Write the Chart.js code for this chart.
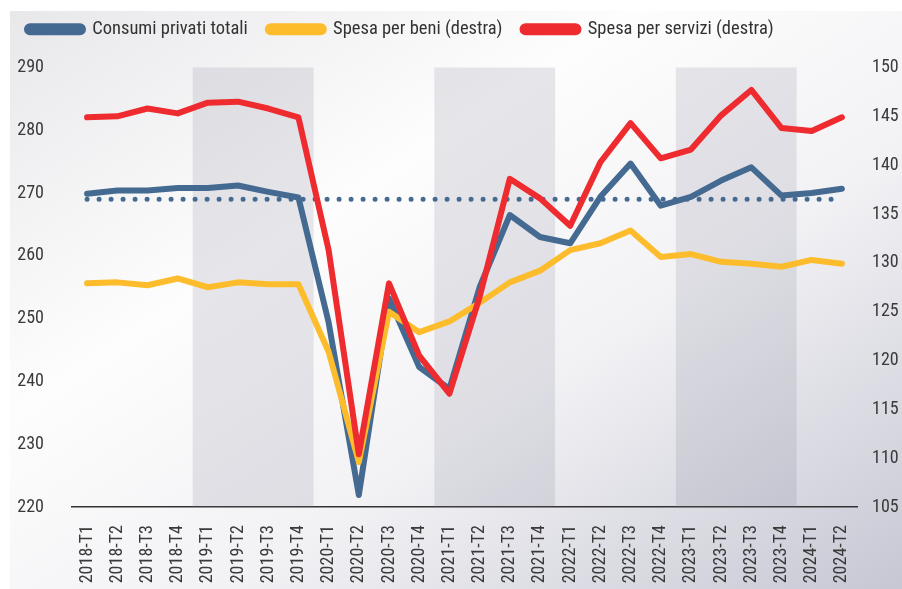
<!DOCTYPE html>
<html>
<head>
<meta charset="utf-8">
<script src="https://cdn.jsdelivr.net/npm/chart.js@4.4.1/dist/chart.umd.min.js"></script>
<style>
  html, body { margin: 0; padding: 0; background: #fff; }
  #bg {
    position: absolute; left: 10px; top: 11px; width: 892px; height: 578px;
    background: linear-gradient(to bottom right, #e8e8eb 0%, #fdfdfd 35%, #f2f2f5 62%, #c6c7d3 100%);
  }
  #wrap { position: absolute; left: 0; top: 0; width: 902px; height: 589px; }
</style>
</head>
<body>
<div id="bg"></div>
<div id="wrap"><canvas id="chart"></canvas></div>
<script>
// quarters on the x axis
const quarters = [
  "2018-T1", "2018-T2", "2018-T3", "2018-T4",
  "2019-T1", "2019-T2", "2019-T3", "2019-T4",
  "2020-T1", "2020-T2", "2020-T3", "2020-T4",
  "2021-T1", "2021-T2", "2021-T3", "2021-T4",
  "2022-T1", "2022-T2", "2022-T3", "2022-T4",
  "2023-T1", "2023-T2", "2023-T3", "2023-T4",
  "2024-T1", "2024-T2"
];

// left axis
const consumiTotali = [
  269.9, 270.4, 270.4, 270.8, 270.8, 271.2, 270.2, 269.3,
  249.4, 221.9, 253.2, 242.3, 238.8, 255.0, 266.5, 263.0,
  262.0, 269.4, 274.7, 268.0, 269.4, 272.0, 274.1, 269.6,
  270.0, 270.7
];
const mediaConsumi = 269.0;

// right axis
const spesaBeni = [
  127.9, 128.0, 127.7, 128.4, 127.5, 128.0, 127.8, 127.8,
  120.9, 109.6, 125.0, 122.9, 124.0, 125.9, 128.0, 129.2,
  131.3, 132.0, 133.3, 130.6, 130.9, 130.1, 129.9, 129.6,
  130.3, 129.9
];
const spesaServizi = [
  144.9, 145.0, 145.8, 145.3, 146.4, 146.5, 145.8, 144.9,
  131.3, 110.4, 127.9, 120.5, 116.6, 126.5, 138.6, 136.6,
  133.8, 140.3, 144.3, 140.7, 141.6, 145.1, 147.7, 143.8,
  143.5, 144.9
];

const shadedYears = ["2019", "2021", "2023"];

const BLUE = "#456a92";
const YELLOW = "#fdbc2c";
const RED = "#ee2b2f";
const FONT = "'Roboto Condensed', 'Liberation Sans Narrow', 'DejaVu Sans Condensed', Roboto, sans-serif";

// grey bands behind alternate years
const yearBands = {
  id: "yearBands",
  beforeDatasetsDraw(chart) {
    const { ctx, chartArea, scales } = chart;
    const x = scales.x;
    const step = x.getPixelForValue(1) - x.getPixelForValue(0);
    ctx.save();
    ctx.fillStyle = "rgba(120, 120, 145, 0.17)";
    shadedYears.forEach(year => {
      let idx = quarters.map((q, i) => q.startsWith(year) ? i : -1).filter(i => i >= 0);
      let left = x.getPixelForValue(idx[0]) - step / 2;
      let right = x.getPixelForValue(idx[idx.length - 1]) + step / 2;
      ctx.fillRect(left, chartArea.top, right - left, chartArea.bottom - chartArea.top);
    });
    ctx.restore();
  }
};

// a bit more room under the legend
const legendMargin = {
  id: "legendMargin",
  beforeInit(chart) {
    const origFit = chart.legend.fit;
    chart.legend.fit = function () {
      origFit.bind(chart.legend)();
      this.height += 19;
    };
  }
};

Chart.defaults.font.family = FONT;
Chart.defaults.color = "#3a3a3a";

new Chart(document.getElementById("chart"), {
  type: "line",
  data: {
    labels: quarters,
    datasets: [
      {
        label: "Spesa per servizi (destra)",
        data: spesaServizi,
        yAxisID: "y1",
        borderColor: RED,
        backgroundColor: RED,
        borderWidth: 6,
        order: 1
      },
      {
        label: "Spesa per beni (destra)",
        data: spesaBeni,
        yAxisID: "y1",
        borderColor: YELLOW,
        backgroundColor: YELLOW,
        borderWidth: 6,
        order: 2
      },
      {
        label: "media",
        data: quarters.map(() => mediaConsumi),
        yAxisID: "y",
        borderColor: BLUE,
        borderWidth: 5,
        borderDash: [0, 12],
        borderCapStyle: "round",
        order: 3
      },
      {
        label: "Consumi privati totali",
        data: consumiTotali,
        yAxisID: "y",
        borderColor: BLUE,
        backgroundColor: BLUE,
        borderWidth: 6,
        order: 4
      }
    ]
  },
  options: {
    responsive: true,
    maintainAspectRatio: false,
    animation: false,
    layout: { padding: { left: 7, top: 0, right: 0, bottom: 0 } },
    elements: {
      point: { radius: 0 },
      line: { tension: 0, borderJoinStyle: "round", borderCapStyle: "round" }
    },
    plugins: {
      tooltip: { enabled: false },
      legend: {
        position: "top",
        align: "start",
        labels: {
          boxWidth: 56,
          boxHeight: 6,
          useBorderRadius: true,
          borderRadius: 3,
          padding: 20,
          font: { size: 18.5 },
          color: "#333",
          filter: item => item.text !== "media",
          sort: (a, b) => b.datasetIndex - a.datasetIndex
        }
      }
    },
    scales: {
      x: {
        offset: true,
        grid: { display: false, drawTicks: false, offset: true },
        border: { display: true, color: "#333", width: 1.5 },
        ticks: { maxRotation: 90, minRotation: 90, padding: 18, font: { size: 18 }, autoSkip: false },
        afterFit: s => { s.height = 82; }
      },
      y: {
        position: "left",
        min: 220, max: 290,
        grid: { display: false, drawTicks: false },
        border: { display: false },
        ticks: { stepSize: 10, padding: 28, font: { size: 18 } },
        afterFit: s => { s.width = 65; }
      },
      y1: {
        position: "right",
        min: 105, max: 150,
        grid: { display: false, drawTicks: false },
        border: { display: false },
        ticks: { stepSize: 5, padding: 15, font: { size: 18 } },
        afterFit: s => { s.width = 45; }
      }
    }
  },
  plugins: [yearBands, legendMargin]
});
</script>
</body>
</html>
